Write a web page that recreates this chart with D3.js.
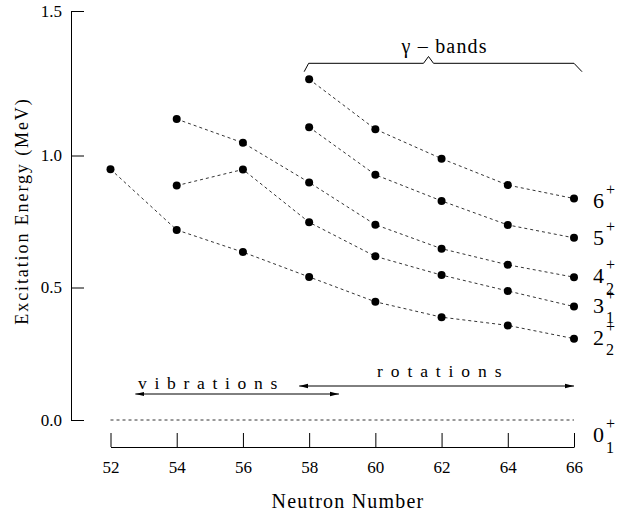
<!DOCTYPE html>
<html>
<head>
<meta charset="utf-8">
<script src="https://cdn.jsdelivr.net/npm/d3@7"></script>
</head>
<body style="margin:0">
<script>
// neutron numbers and excitation energies (MeV) for each band, null = not measured
var neutrons = [52, 54, 56, 58, 60, 62, 64, 66];
var band2 = [0.948, 0.718, 0.634, 0.540, 0.446, 0.388, 0.357, 0.307];
var band3 = [null, 0.886, 0.947, 0.747, 0.618, 0.547, 0.487, 0.428];
var band4 = [null, 1.126, 1.044, 0.898, 0.738, 0.647, 0.586, 0.539];
var band5 = [null, null, null, 1.098, 0.927, 0.828, 0.737, 0.688];
var band6 = [null, null, null, 1.264, 1.091, 0.988, 0.888, 0.837];
var groundBand = [0, 0, 0, 0, 0, 0, 0, 0];
var yTicks = [0, 0.5, 1.0, 1.5];
var xTicks = [52, 54, 56, 58, 60, 62, 64, 66];

// state labels (main digit, subscript), bottom to top, plus ground state
var levelMain = ["2", "3", "4", "5", "6", "0"];
var levelSub = ["2", "1", "2", "", "", "1"];
var levelDy = [6, 6, 6, 7, 9.5, 22];

// regime arrows in neutron number
var vibRange = [52.75, 58.9];
var rotRange = [57.7, 66];

var width = 620, height = 515;
var serif = "Liberation Serif";

var svg = d3.select("body").append("svg")
    .attr("width", width)
    .attr("height", height);

var x = d3.scaleLinear().domain([52, 66]).range([110.5, 574]);
// the original axis is not quite uniform, so a piecewise scale
var y = d3.scaleLinear().domain([0, 0.5, 1.0, 1.5]).range([420, 287.5, 155.5, 11]);

// arrowhead marker
svg.append("defs").append("marker")
    .attr("id", "arrow")
    .attr("markerUnits", "userSpaceOnUse")
    .attr("markerWidth", 9)
    .attr("markerHeight", 6)
    .attr("refX", 9)
    .attr("refY", 3)
    .attr("orient", "auto-start-reverse")
    .append("path")
    .attr("d", "M0,0.8L9,3L0,5.2Z")
    .attr("fill", "#000");

// y axis
var yAxis = svg.append("g")
    .attr("transform", "translate(71,0)")
    .call(d3.axisLeft(y).tickValues(yTicks).tickFormat(d3.format(".1f"))
        .tickSize(-13).tickSizeOuter(0).tickPadding(9));

// x axis
var xAxis = svg.append("g")
    .attr("transform", "translate(0,447)")
    .call(d3.axisBottom(x).tickValues(xTicks).tickFormat(d3.format("d"))
        .tickSize(-14).tickSizeOuter(0).tickPadding(14));

[yAxis, xAxis].forEach(function (g) {
    g.attr("font-family", serif).attr("font-size", 17);
    g.select(".domain").attr("stroke", "#000").attr("stroke-width", 1);
    g.selectAll(".tick line").attr("stroke", "#000").attr("stroke-width", 1);
    g.selectAll(".tick text").attr("fill", "#000");
});

// axis titles
svg.append("text")
    .attr("transform", "translate(27.5,211) rotate(-90)")
    .attr("text-anchor", "middle")
    .attr("font-size", 18)
    .attr("letter-spacing", 1.9)
    .text("Excitation Energy  (MeV)");

svg.append("text")
    .attr("x", 348)
    .attr("y", 508)
    .attr("text-anchor", "middle")
    .attr("font-size", 20)
    .attr("letter-spacing", 1.2)
    .text("Neutron Number");

// ground state dashed line
var line = d3.line()
    .defined(function (d) { return d[1] !== null; })
    .x(function (d) { return x(d[0]); })
    .y(function (d) { return y(d[1]); });

svg.append("path")
    .datum(d3.zip(neutrons, groundBand))
    .attr("d", line)
    .attr("fill", "none")
    .attr("stroke", "#000")
    .attr("stroke-width", 0.8)
    .attr("stroke-dasharray", "3,3");

// bands
var bands = [band2, band3, band4, band5, band6];

bands.forEach(function (band) {
    var pts = d3.zip(neutrons, band).filter(function (d) { return d[1] !== null; });

    svg.append("path")
        .datum(pts)
        .attr("d", line)
        .attr("fill", "none")
        .attr("stroke", "#000")
        .attr("stroke-width", 0.8)
        .attr("stroke-dasharray", "3,3");

    svg.append("g").selectAll("circle")
        .data(pts)
        .enter()
        .append("circle")
        .attr("cx", function (d) { return x(d[0]); })
        .attr("cy", function (d) { return y(d[1]); })
        .attr("r", 4)
        .attr("fill", "#000");
});

// state labels on the right
var lastValues = bands.map(function (b) { return b[b.length - 1]; }).concat([groundBand[groundBand.length - 1]]);

lastValues.forEach(function (v, i) {
    var base = y(v) + levelDy[i];
    svg.append("text")
        .attr("x", 593)
        .attr("y", base)
        .attr("font-size", 22)
        .text(levelMain[i]);
    svg.append("text")
        .attr("x", 606)
        .attr("y", base - 13)
        .attr("font-size", 16)
        .text("+");
    if (levelSub[i]) {
        svg.append("text")
            .attr("x", 606)
            .attr("y", base + 10.5)
            .attr("font-size", 16)
            .text(levelSub[i]);
    }
});

// gamma band brace
var bl = x(58) - 5, br = x(66) + 8, bm = 428.5;
var brace = d3.path();
brace.moveTo(bl, 71.7);
brace.lineTo(bl + 4.5, 63.3);
brace.lineTo(bm - 5, 63.3);
brace.lineTo(bm, 56.5);
brace.lineTo(bm + 5, 63.3);
brace.lineTo(br - 8, 63.3);
brace.lineTo(br, 71.7);

svg.append("path")
    .attr("d", brace.toString())
    .attr("fill", "none")
    .attr("stroke", "#000")
    .attr("stroke-width", 1);

svg.append("text")
    .attr("x", 401.5)
    .attr("y", 53)
    .attr("font-size", 20)
    .attr("letter-spacing", 1.2)
    .text("\u03b3 \u2013 bands");

// vibrations / rotations arrows
svg.append("line")
    .attr("x1", x(vibRange[0])).attr("x2", x(vibRange[1]))
    .attr("y1", 394).attr("y2", 394)
    .attr("stroke", "#000").attr("stroke-width", 1)
    .attr("marker-start", "url(#arrow)")
    .attr("marker-end", "url(#arrow)");

svg.append("line")
    .attr("x1", x(rotRange[0])).attr("x2", x(rotRange[1]))
    .attr("y1", 386).attr("y2", 386)
    .attr("stroke", "#000").attr("stroke-width", 1)
    .attr("marker-start", "url(#arrow)")
    .attr("marker-end", "url(#arrow)");

svg.append("text")
    .attr("x", 138)
    .attr("y", 389)
    .attr("font-size", 17.5)
    .attr("letter-spacing", 7.7)
    .text("vibrations");

svg.append("text")
    .attr("x", 377)
    .attr("y", 377)
    .attr("font-size", 17.5)
    .attr("letter-spacing", 7.9)
    .text("rotations");

svg.selectAll("text").attr("font-family", serif).attr("fill", "#000");
</script>
</body>
</html>
